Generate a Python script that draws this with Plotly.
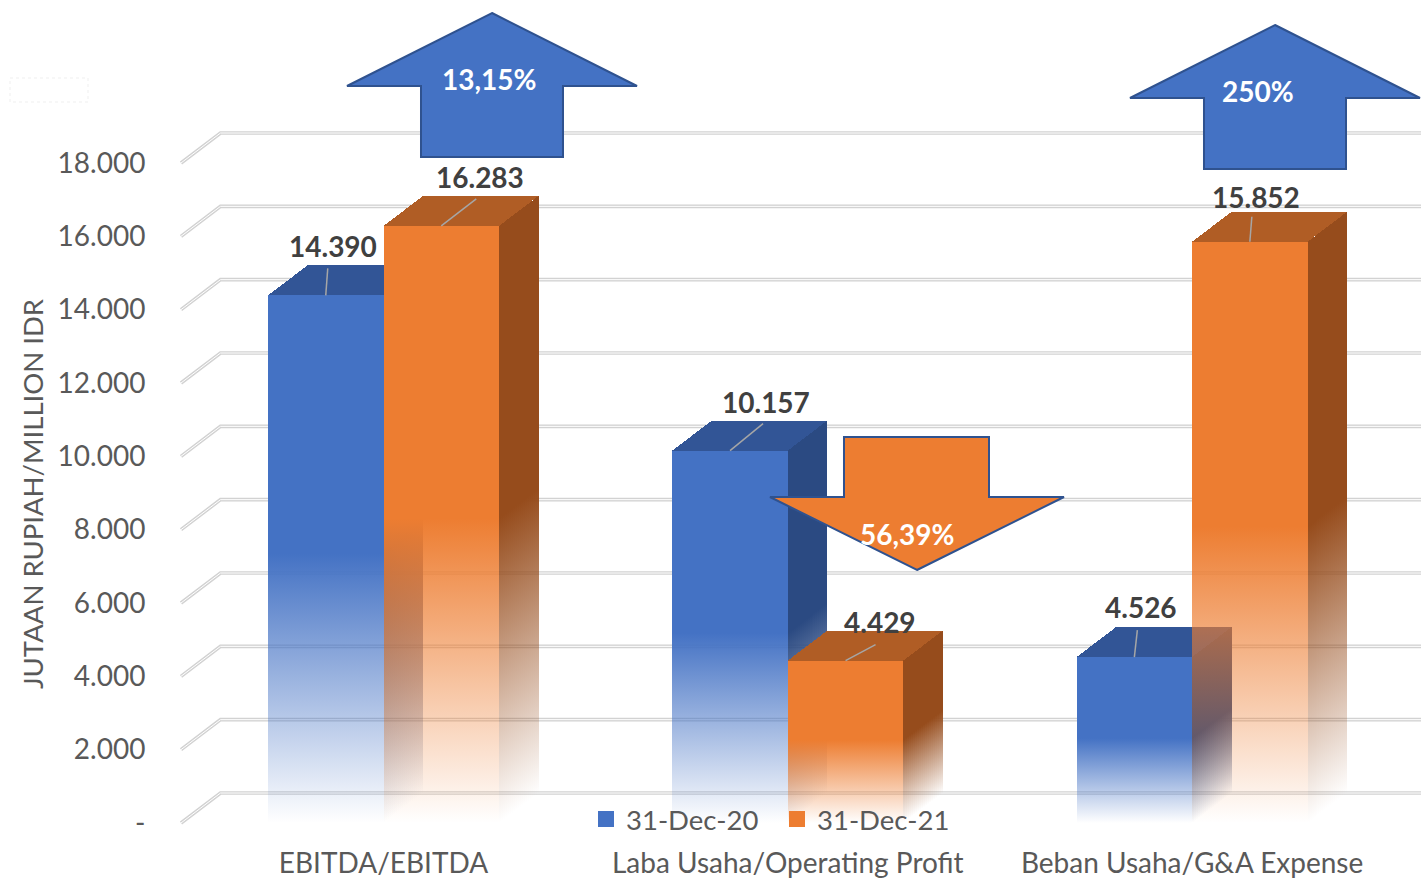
import plotly.graph_objects as go

categories = ["EBITDA/EBITDA", "Laba Usaha/Operating Profit", "Beban Usaha/G&A Expense"]
series_names = ["31-Dec-20", "31-Dec-21"]
values_2020 = [14390, 10157, 4526]
values_2021 = [16283, 4429, 15852]
y_ticks = [0, 2000, 4000, 6000, 8000, 10000, 12000, 14000, 16000, 18000]
y_tick_labels = ["-", "2.000", "4.000", "6.000", "8.000", "10.000", "12.000", "14.000", "16.000", "18.000"]
change_labels = ["13,15%", "56,39%", "250%"]

# ---- geometry (pixels of the 1421x880 page) ----
W, H = 1421, 880
PL, PBOT, ZERO = 155, 836, 823
CAT0, CAT_STEP = 383.5, 404.3
PX_PER_UNIT = 660 / 18000
BAR_W = 115.5 / CAT_STEP
DX, DY = 39.5 / CAT_STEP, 30 / PX_PER_UNIT
STRIPS = 20
FADE = 0.49


def pxx(x):
    return (x - CAT0) / CAT_STEP


def paper(x, y):
    return (x - PL) / (W - PL), (PBOT - y) / PBOT


def rgba(c, a):
    return f"rgba({c[0]},{c[1]},{c[2]},{a})"


def poly(x, y, fill):
    return go.Scatter(x=x + x[:1], y=y + y[:1], mode="lines", line=dict(width=0), fill="toself",
                      hoverinfo="skip", showlegend=False, **fill)


def grad(c, base, value):
    stop_frac = 1 - FADE
    return dict(fillgradient=dict(type="vertical", start=base, stop=base + value,
                                  colorscale=[[0, rgba(c, 0)], [stop_frac, rgba(c, 1)], [1, rgba(c, 1)]]))


fig = go.Figure()

# back wall gridlines
x_l = pxx(181)
x_r = pxx(1440)
for t in y_ticks:
    for width, col in ((3.6, "#D2D2D2"), (1.0, "#FFFFFF")):
        fig.add_trace(go.Scatter(x=[x_l, x_l + DX, x_r], y=[t, t + DY, t + DY], mode="lines",
                                 line=dict(color=col, width=width), hoverinfo="skip", showlegend=False))

palette = [
    dict(front=(68, 114, 196), top=(50, 85, 150), side=(43, 74, 130), left=-1),
    dict(front=(237, 125, 49), top=(176, 93, 37), side=(150, 76, 28), left=0),
]

for values, pal in zip((values_2020, values_2021), palette):
    for i, v in enumerate(values):
        x0 = i + pal["left"] * BAR_W
        x1 = x0 + BAR_W
        # side face, cut in thin strips so that the fade follows the slanted floor edge
        for s in range(STRIPS):
            a, b = s / STRIPS, (s + 1) / STRIPS
            m = (a + b) / 2
            fig.add_trace(poly([x1 + a * DX, x1 + b * DX, x1 + b * DX, x1 + a * DX],
                               [a * DY, b * DY, v + b * DY, v + a * DY],
                               grad(pal["side"], m * DY, v)))
        # top face
        fig.add_trace(poly([x0, x1, x1 + DX, x0 + DX], [v, v, v + DY, v + DY],
                           dict(fillcolor=rgba(pal["top"], 1))))
        # front face
        fig.add_trace(poly([x0, x1, x1, x0], [0, 0, v, v], grad(pal["front"], 0, v)))

# leader lines: offsets from the bar's top centre, pixels
leader = [[(2, 27), (33, 27), (3, 27)], [(35, 27), (30, 16), (2, 25)]]
bar_centres = [[-BAR_W / 2 + i for i in range(3)], [BAR_W / 2 + i for i in range(3)]]
for s, values in enumerate((values_2020, values_2021)):
    for i, v in enumerate(values):
        dx, dy = leader[s][i]
        cx = bar_centres[s][i]
        fig.add_trace(go.Scatter(x=[cx, cx + dx / CAT_STEP], y=[v, v + dy / PX_PER_UNIT], mode="lines",
                                 line=dict(color="#A6A6A6", width=1.5), hoverinfo="skip", showlegend=False))

# legend entries
for name, col in zip(series_names, ("#4472C4", "#ED7D31")):
    fig.add_trace(go.Scatter(x=[None], y=[None], mode="markers", name=name,
                             marker=dict(symbol="square", size=20, color=col)))

annotations = []
label_shift = [[(7, 49), (36, 49), (7, 50)], [(39, 49), (34, 39), (6, 45)]]
for s, values in enumerate((values_2020, values_2021)):
    for i, v in enumerate(values):
        xs, ys = label_shift[s][i]
        annotations.append(dict(x=bar_centres[s][i], y=v, xref="x", yref="y", text=f"{v:,}".replace(",", "."),
                                showarrow=False, xshift=xs, yshift=ys, xanchor="center", yanchor="middle",
                                font=dict(family="Lato", size=28, color="#404040", weight="bold")))

# change arrows
arrow_up_1 = [(492, 13), (637, 86), (563, 86), (563, 157), (421, 157), (421, 86), (347, 86)]
arrow_up_3 = [(1275, 25), (1420, 98), (1346, 98), (1346, 169), (1204, 169), (1204, 98), (1130, 98)]
arrow_down = [(917, 570), (1064, 497), (989, 497), (989, 437), (844, 437), (844, 497), (770, 497)]
shapes = []
for pts, col in ((arrow_up_1, "#4472C4"), (arrow_down, "#ED7D31"), (arrow_up_3, "#4472C4")):
    conv = [paper(*p) for p in pts]
    path = "M" + "L".join(f"{a:.5f},{b:.5f}" for a, b in conv) + "Z"
    shapes.append(dict(type="path", path=path, xref="paper", yref="paper", fillcolor=col, layer="above",
                       line=dict(color="#2F528F", width=2)))
# faint smudge in the top-left corner
sx0, sy0 = paper(10, 78)
sx1, sy1 = paper(88, 102)
shapes.append(dict(type="rect", xref="paper", yref="paper", x0=sx0, y0=sy0, x1=sx1, y1=sy1,
                   line=dict(color="#EFEFEF", width=1, dash="dot"), layer="below"))

for txt, (px, py) in zip(change_labels, ((489, 79), (907, 534), (1258, 91))):
    a, b = paper(px, py)
    annotations.append(dict(x=a, y=b, xref="paper", yref="paper", text=txt, showarrow=False,
                            xanchor="center", yanchor="middle",
                            font=dict(family="Lato", size=28, color="#FFFFFF", weight="bold")))
a, b = paper(33, 494)
annotations.append(dict(x=a, y=b, xref="paper", yref="paper", text="JUTAAN RUPIAH/MILLION IDR", textangle=-90,
                        showarrow=False, xanchor="center", yanchor="middle",
                        font=dict(family="Lato", size=27.5, color="#595959")))

lx, ly = paper(586, 819)
fig.update_layout(
    width=W, height=H, margin=dict(l=PL, r=0, t=0, b=H - PBOT), autosize=False,
    paper_bgcolor="#FFFFFF", plot_bgcolor="#FFFFFF",
    font=dict(family="Lato", size=28, color="#595959"),
    xaxis=dict(range=[pxx(PL), pxx(W)], tickvals=[0, 1, 2], ticktext=categories, showgrid=False, zeroline=False,
               showline=False, ticks="outside", ticklen=2, tickcolor="rgba(0,0,0,0)", automargin=False,
               tickfont=dict(size=28, color="#595959")),
    yaxis=dict(range=[(ZERO - PBOT) / PX_PER_UNIT, ZERO / PX_PER_UNIT], tickvals=y_ticks, ticktext=y_tick_labels,
               showgrid=False, zeroline=False, showline=False, ticks="outside", ticklen=3, automargin=False,
               tickcolor="rgba(0,0,0,0)", tickfont=dict(size=28, color="#595959")),
    legend=dict(orientation="h", x=lx, y=ly, xanchor="left", yanchor="middle", bgcolor="rgba(0,0,0,0)",
                entrywidth=146, entrywidthmode="pixels",
                font=dict(size=27.5, color="#595959"), itemclick=False, itemdoubleclick=False),
    shapes=shapes, annotations=annotations, hovermode=False,
)

POST = """
document.body.style.margin='0';document.body.style.overflow='hidden';
document.querySelectorAll('.js-fill').forEach(function(p){p.style.shapeRendering='crispEdges';});
"""
fig.write_html("out.html", post_script=POST, config=dict(displayModeBar=False))
